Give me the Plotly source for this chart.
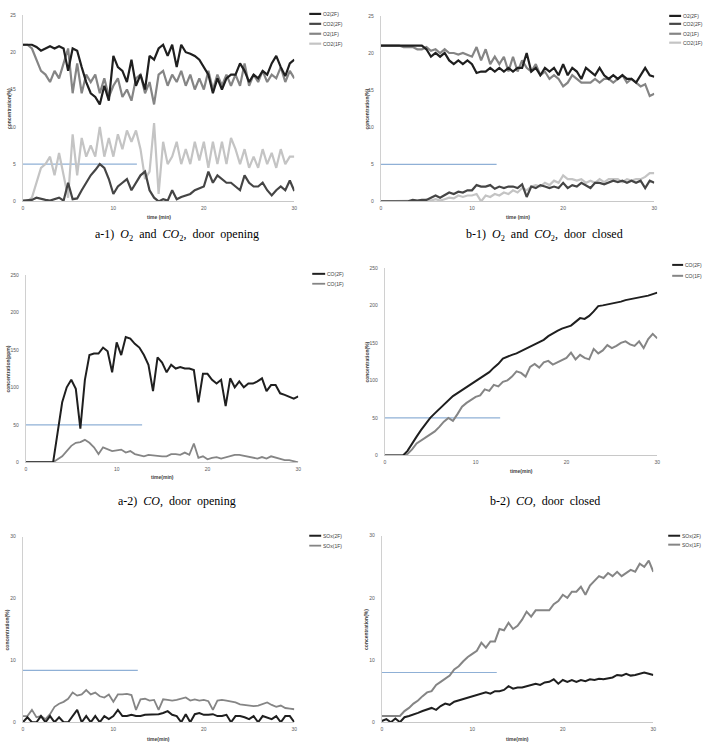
import plotly.graph_objects as go

W, H = 709, 755
time = [i * 0.5 for i in range(61)]

# ---------------- a-1) O2 and CO2, door opening (%) ----------------
a1_o2_2f = [21, 21, 21, 20.7, 20.2, 20.5, 20.8, 20.5, 20.8, 20.5,
            17.5, 20.5, 20.2, 18, 16, 14.5, 14, 13, 15.5, 13.5,
            19.5, 18, 17.5, 16, 19, 15.5, 17, 15, 19.5, 19,
            20.5, 21, 19.5, 21, 18, 21, 20, 19.8, 19.5, 19,
            18, 17, 14.5, 16.5, 15, 16.5, 17, 17, 18.5, 17.5,
            16, 17, 16.5, 17.5, 17, 18.5, 19.5, 18, 16.8, 18.5,
            19]
a1_co2_2f = [0.1, 0.2, 0.2, 0.5, 0.3, 0.2, 0.1, 0.3, 0.5, 0.1,
             2.5, 0.3, 0.4, 1.5, 2.5, 3.5, 4.2, 5, 4.5, 3,
             1, 2, 2.5, 3, 1.5, 2.5, 3.5, 4, 1.5, 0.5,
             0, 0.3, 0.1, 1.5, 0.3, 0.6, 0.8, 1, 1.5, 1.7,
             2, 4, 2.5, 3.5, 3, 2.5, 2.5, 2, 1.5, 3.5,
             2.5, 2, 2, 2.5, 1.5, 0.8, 1.5, 2, 1.5, 2.8,
             1.4]
a1_o2_1f = [21, 21, 20.5, 19, 17.5, 17, 16, 17.5, 16.5, 18.5,
            20.5, 14.5, 18.5, 14.5, 17, 16, 17, 14.5, 16.5, 14,
            15.5, 16.5, 14, 15, 13.5, 16.5, 17, 14.5, 16, 13,
            17, 17.5, 15.5, 17, 16, 17.5, 15.5, 17, 15, 16.5,
            15, 17.5, 15, 17, 15.5, 17, 15.5, 17, 15.5, 18.5,
            15.5, 17, 16, 17.5, 16, 17, 16.5, 18, 16, 17.5,
            16.5]
a1_co2_1f = [0, 0, 0.5, 2.5, 4.5, 5, 6, 3.5, 6.5, 3.5,
             0.5, 9, 3.5, 8.5, 6, 7.5, 6, 10, 6, 8.5,
             6, 9, 7, 9.5, 8, 9.5, 7, 3, 4, 10.5,
             1, 8, 5, 6, 8, 5, 7, 5, 8, 5.5,
             8, 4.5, 8, 5, 8, 5, 8.5, 7, 5, 7,
             4.5, 6, 4.5, 7, 5, 6.5, 4.5, 7, 5, 6,
             6]

# ---------------- b-1) O2 and CO2, door closed (%) ----------------
b1_o2_2f = [21, 21, 21, 21, 21, 21, 21, 21, 21, 21,
            20.5, 19.5, 20, 19.5, 20, 19, 18.5, 19, 18.5, 19,
            18.5, 17.3, 17.5, 17.5, 18, 17.5, 18, 17.5, 18, 17.5,
            18, 18, 20, 17.5, 18, 17, 18, 17.5, 18, 17,
            18.5, 17, 18, 17.5, 16.5, 18, 17.5, 17, 18, 17,
            16.5, 17, 16.5, 17, 16.5, 16.5, 16, 17, 18, 17,
            16.8]
b1_co2_2f = [0, 0, 0, 0, 0, 0, 0, 0.2, 0.1, 0.2,
             0.2, 0.5, 0.8, 0.5, 0.8, 1.2, 1, 1.3, 1.2, 1.5,
             1.5, 2.2, 2, 2, 2.2, 1.7, 2, 1.8, 2, 2,
             1.8, 2.3, 0.6, 2, 1.8, 2.2, 2, 1.8, 2, 1.8,
             2.5, 1.8, 2.2, 2, 2.5, 2.2, 1.8, 2.5, 2.5, 2.3,
             2.5, 2.8, 2.6, 2.8, 2.5, 2.8, 2.5, 2.8, 1.8, 2.8,
             2.5]
b1_o2_1f = [21, 21, 21, 21, 21, 20.8, 20.8, 20.8, 20.5, 20.5,
            20.8, 20.3, 20.5, 20, 20.5, 20, 20, 19.8, 20, 19.7,
            19.5, 20.8, 19, 20.5, 18.5, 19.5, 18.5, 19.5, 17.5, 19.5,
            17.5, 19, 18, 17.5, 18.5, 17, 17.5, 16.5, 17, 16.5,
            15.5, 16, 17, 16.5, 16, 16, 16, 16.5, 16, 16.5,
            16.5, 16, 16.5, 17, 16, 16.5, 16, 15.5, 15.8, 14.2,
            14.5]
b1_co2_1f = [0, 0, 0, 0, 0, 0, 0, 0, 0, 0.1,
             0.2, 0.1, 0.3, 0.1, 0.3, 0.5, 0.4, 0.8, 0.6, 0.8,
             0.8, 1, 0, 0.8, 0.6, 1, 0.8, 1.2, 1, 1.5,
             1.2, 1.8, 1.5, 2, 2.2, 2, 2.5, 2.2, 2.8, 2.5,
             3.5, 3, 3, 2.8, 3, 2.5, 2.8, 2.5, 3, 2.6,
             3, 3, 3, 2.6, 3, 2.8, 3, 3, 3.3, 3.8,
             3.8]

# ---------------- a-2) CO, door opening (ppm) ----------------
a2_co_2f = [0, 0, 0, 0, 0, 0, 0, 40, 80, 100,
            110, 98, 45, 110, 143, 145, 145, 153, 148, 120,
            160, 143, 167, 165, 158, 153, 143, 130, 95, 140,
            133, 120, 130, 125, 127, 125, 125, 123, 80, 118,
            118, 110, 105, 110, 75, 112, 100, 108, 100, 105,
            105, 108, 112, 95, 103, 103, 92, 90, 88, 85,
            88]
a2_co_1f = [0, 0, 1, 0, 0, 0, 0, 4, 8, 15,
            22, 26, 27, 30, 26, 20, 11, 20, 17, 15,
            16, 17, 13, 15, 11, 9, 8, 10, 9, 8,
            8, 8, 11, 11, 10, 13, 10, 25, 6, 8,
            4, 6, 7, 5, 7, 9, 10, 10, 9, 8,
            6, 5, 7, 5, 8, 6, 4, 3, 3, 1,
            0]

# ---------------- b-2) CO, door closed ----------------
b2_co_2f = [0, 0, 0, 0, 0, 6, 16, 25, 34, 42,
            50, 56, 62, 68, 74, 79, 83, 87, 91, 95,
            98, 102, 106, 111, 117, 122, 129, 132, 134, 136,
            139, 142, 145, 147, 151, 154, 159, 163, 166, 169,
            171, 173, 178, 183, 182, 186, 192, 199, 200, 201,
            202, 203, 205, 207, 208, 210, 211, 212, 213, 215,
            217]
b2_co_1f = [0, 0, 0, 0, 0, 2, 8, 16, 20, 25,
            28, 32, 38, 45, 50, 46, 55, 65, 70, 74,
            78, 80, 88, 86, 94, 92, 98, 100, 105, 112,
            110, 105, 118, 122, 117, 124, 126, 121, 124, 126,
            130, 137, 128, 134, 130, 128, 142, 136, 140, 147,
            143, 146, 150, 152, 148, 146, 152, 143, 155, 162,
            156]

# ---------------- a-3) SOx, door opening ----------------
a3_sox_2f = [0, 0.8, 0, 0, 1, 0, 1, 0, 0.8, 0,
             0, 1, 2, 0, 1, 0, 1, 0, 1, 0.5,
             1, 2, 1, 1, 1.2, 1, 1, 1.2, 1.2, 1.2,
             1.3, 1.5, 1.8, 1.2, 1, 0, 1.3, 0, 1.3, 1.5,
             1.2, 1.2, 1.3, 1, 1, 1.2, 0, 1, 1, 0.8,
             0.5, 1, 0, 1, 0.8, 0.5, 1, 0, 1, 1,
             0]
a3_sox_1f = [1, 1, 2, 0.8, 1, 0.5, 1.3, 2.5, 3, 3.3,
             3.8, 4.8, 4.3, 4.5, 5.2, 4.5, 4.8, 4.2, 4, 4.5,
             3.3, 4.5, 4.5, 4.6, 4.4, 2, 3.7, 3.8, 3.5, 3.6,
             2, 3.7, 3.6, 3.5, 3.6, 3.8, 4, 3.5, 3.7, 3.5,
             3.6, 3.4, 2, 3.5, 3.6, 3.5, 3.4, 3.2, 2.9, 2.8,
             2.8, 2.6, 2.7, 3, 3.2, 2.8, 2.5, 2.7, 2.3, 2.2,
             2.1]

# ---------------- b-3) SOx, door closed ----------------
b3_sox_2f = [0.2, 0.5, 0, 0.6, 0, 0.8, 1, 1.2, 1.5, 1.8,
             2, 2.3, 2, 2.6, 3, 2.8, 3.3, 3.5, 3.8, 4,
             4.2, 4.3, 4.5, 4.8, 4.6, 5, 5, 5.2, 5.8, 5.4,
             5.6, 5.6, 5.8, 6, 6.2, 6, 6.4, 6.5, 6.9, 6.2,
             6.8, 6.5, 6.8, 6.5, 6.8, 6.6, 6.9, 6.8, 7, 6.9,
             7, 7.2, 7.6, 7.5, 7.8, 7.5, 7.6, 7.8, 8, 7.8,
             7.6]
b3_sox_1f = [1, 1, 1, 1, 1, 1.8, 2.3, 3, 3.5, 4.2,
             4.8, 5, 6, 6.5, 7, 7.5, 8.5, 9, 9.8, 10.5,
             11, 11.5, 12.8, 12, 13, 13, 15, 14.8, 16, 15,
             15.5, 16.5, 17.8, 17, 18, 18, 18, 18, 19, 19.5,
             20.5, 20, 21, 21, 21.8, 20.5, 22, 22.8, 23.5, 23.2,
             24, 23.5, 24.2, 23.5, 24, 24.5, 24.2, 25.5, 25, 26,
             24.2]

# threshold lines (value, end time)
a1_limit = (5, 12.6)
b1_limit = (5, 12.7)
a2_limit = (50, 12.8)
b2_limit = (50, 12.7)
a3_limit = (8.4, 12.7)
b3_limit = (8, 12.7)

x_ticks = [0, 10, 20, 30]

for arr in [a1_o2_2f, a1_co2_2f, a1_o2_1f, a1_co2_1f, b1_o2_2f, b1_co2_2f, b1_o2_1f,
            b1_co2_1f, a2_co_2f, a2_co_1f, b2_co_2f, b2_co_1f, a3_sox_2f, a3_sox_1f,
            b3_sox_2f, b3_sox_1f]:
    assert len(arr) == len(time), len(arr)

BLACK = '#1f1f1f'
DARK = '#454545'
MID = '#858585'
LIGHT = '#c4c4c4'
BLUE = '#8fb0d6'

panels = [
    dict(box=(22, 295, 12, 200), ymax=25, dtick=5, ytitle='concentration(%)', ytx=8,
         xtitle='time (min)', xty=216, limit=a1_limit,
         series=[('O2(2F)', a1_o2_2f, BLACK, 2.2), ('CO2(2F)', a1_co2_2f, DARK, 2.2),
                 ('O2(1F)', a1_o2_1f, MID, 2.2), ('CO2(1F)', a1_co2_1f, LIGHT, 2.2)],
         leg=(310, 322, [11, 21, 31, 41])),
    dict(box=(382, 657, 13, 200), ymax=25, dtick=5, ytitle='concentration(%)', ytx=368,
         xtitle='time (min)', xty=216, limit=b1_limit,
         series=[('O2(2F)', b1_o2_2f, BLACK, 2.2), ('CO2(2F)', b1_co2_2f, DARK, 2.2),
                 ('O2(1F)', b1_o2_1f, MID, 2.2), ('CO2(1F)', b1_co2_1f, LIGHT, 2.2)],
         leg=(672, 684, [13, 21, 31, 40])),
    dict(box=(25, 299, 274, 463), ymax=250, dtick=50, ytitle='concentration(ppm)', ytx=7,
         xtitle='time(min)', xty=478, limit=a2_limit,
         series=[('CO(2F)', a2_co_2f, BLACK, 2.0), ('CO(1F)', a2_co_1f, MID, 1.8)],
         leg=(313, 326, [273, 283])),
    dict(box=(386, 660, 267, 456), ymax=250, dtick=50, ytitle='concentration(%)', ytx=368,
         xtitle='time(min)', xty=472, limit=b2_limit,
         series=[('CO(2F)', b2_co_2f, BLACK, 2.0), ('CO(1F)', b2_co_1f, MID, 2.0)],
         leg=(675, 686, [264, 275])),
    dict(box=(22, 295, 538, 725), ymax=30, dtick=10, ytitle='concentration(%)', ytx=7,
         xtitle='time(min)', xty=742, limit=a3_limit,
         series=[('SOx(2F)', a3_sox_2f, BLACK, 2.0), ('SOx(1F)', a3_sox_1f, MID, 1.8)],
         leg=(310, 322, [537, 547])),
    dict(box=(383, 656, 537, 725), ymax=30, dtick=10, ytitle='concentration(%)', ytx=367,
         xtitle='time(min)', xty=742, limit=b3_limit,
         series=[('SOx(2F)', b3_sox_2f, BLACK, 2.0), ('SOx(1F)', b3_sox_1f, MID, 2.0)],
         leg=(671, 683, [537, 546])),
]

captions = [
    ('a-1)&nbsp;&nbsp;<i>O</i><sub>2</sub>&nbsp;&nbsp;and&nbsp;&nbsp;<i>CO</i><sub>2</sub>,&nbsp;&nbsp;door&nbsp;&nbsp;opening', 177, 234),
    ('b-1)&nbsp;&nbsp;<i>O</i><sub>2</sub>&nbsp;&nbsp;and&nbsp;&nbsp;<i>CO</i><sub>2</sub>,&nbsp;&nbsp;door&nbsp;&nbsp;closed', 547, 234),
    ('a-2)&nbsp;&nbsp;<i>CO</i>,&nbsp;&nbsp;door&nbsp;&nbsp;opening', 177, 502),
    ('b-2)&nbsp;&nbsp;<i>CO</i>,&nbsp;&nbsp;door&nbsp;&nbsp;closed', 547, 502),
]

fig = go.Figure()
layout = dict(width=W, height=H, margin=dict(l=0, r=0, t=0, b=0),
              paper_bgcolor='white', plot_bgcolor='white', showlegend=False)
annotations = []
shapes = []
tick_font = dict(family='Liberation Sans, Arial, sans-serif', size=5, color='#595959')
title_font = dict(family='Liberation Sans, Arial, sans-serif', size=5, color='#404040')

for i, p in enumerate(panels, start=1):
    x0, x1, y0, y1 = p['box']
    xa = 'xaxis' if i == 1 else f'xaxis{i}'
    ya = 'yaxis' if i == 1 else f'yaxis{i}'
    xref = 'x' if i == 1 else f'x{i}'
    yref = 'y' if i == 1 else f'y{i}'
    layout[xa] = dict(domain=[x0 / W, x1 / W], anchor=yref, range=[0, 30],
                      tickvals=x_ticks, showgrid=False, zeroline=False, showline=True,
                      linecolor='#c8c8c8', linewidth=1, ticks='', tickfont=tick_font,
                      ticklabelstandoff=2)
    layout[ya] = dict(domain=[1 - y1 / H, 1 - y0 / H], anchor=xref, range=[0, p['ymax']],
                      dtick=p['dtick'], tick0=0, showgrid=False, zeroline=False, showline=True,
                      linecolor='#d0d0d0', linewidth=1, ticks='', tickfont=tick_font,
                      ticklabelstandoff=5)
    lim_val, lim_end = p['limit']
    fig.add_trace(go.Scatter(x=[0, lim_end], y=[lim_val, lim_val], mode='lines',
                             line=dict(color=BLUE, width=1.2), xaxis=xref, yaxis=yref,
                             hoverinfo='skip', name='limit'))
    for name, vals, color, width in reversed(p['series']):
        fig.add_trace(go.Scatter(x=time, y=vals, mode='lines', name=name,
                                 line=dict(color=color, width=width),
                                 xaxis=xref, yaxis=yref))
    # axis titles
    annotations.append(dict(text='<b>' + p['xtitle'] + '</b>', x=(x0 + x1) / 2 / W,
                            y=1 - p['xty'] / H, xref='paper', yref='paper',
                            showarrow=False, font=title_font, xanchor='center', yanchor='middle'))
    annotations.append(dict(text='<b>' + p['ytitle'] + '</b>', x=p['ytx'] / W,
                            y=1 - (y0 + y1) / 2 / H, xref='paper', yref='paper',
                            showarrow=False, font=title_font, textangle=-90,
                            xanchor='center', yanchor='middle'))
    # legend
    lx0, lx1, lys = p['leg']
    for (name, vals, color, width), ly in zip(p['series'], lys):
        shapes.append(dict(type='line', xref='paper', yref='paper', x0=lx0 / W, x1=lx1 / W,
                           y0=1 - ly / H, y1=1 - ly / H, line=dict(color=color, width=width)))
        annotations.append(dict(text=name, x=lx1 / W, y=1 - ly / H, xref='paper', yref='paper',
                                showarrow=False, xanchor='left', yanchor='middle',
                                font=dict(family='Liberation Sans, Arial, sans-serif', size=5,
                                          color='#404040')))

for text, cx, cy in captions:
    annotations.append(dict(text=text, x=cx / W, y=1 - cy / H, xref='paper', yref='paper',
                            showarrow=False, xanchor='center', yanchor='middle',
                            font=dict(family='Liberation Serif, Times New Roman, serif',
                                      size=12, color='black')))

layout['annotations'] = annotations
layout['shapes'] = shapes
fig.update_layout(**layout)
fig.write_html('out.html')
